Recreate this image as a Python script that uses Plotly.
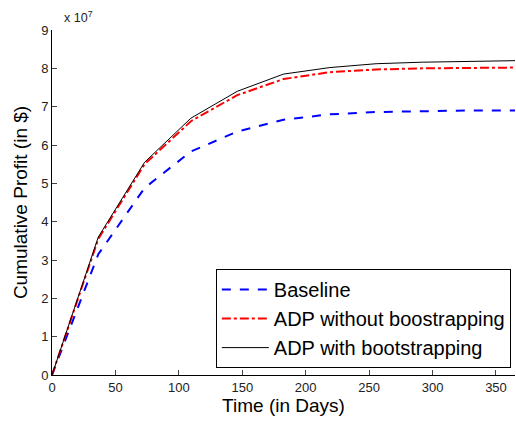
import plotly.graph_objects as go

days = [0, 36.5, 73, 109.5, 146, 182.5, 219, 255.5, 292, 328.5, 365]
baseline = [0, 3.15, 4.88, 5.83, 6.35, 6.66, 6.8, 6.86, 6.88, 6.9, 6.9]
adp_without = [0, 3.55, 5.5, 6.62, 7.3, 7.72, 7.9, 7.97, 8.0, 8.01, 8.02]
adp_with = [0, 3.6, 5.55, 6.7, 7.4, 7.85, 8.02, 8.12, 8.16, 8.18, 8.2]
x_ticks = [0, 50, 100, 150, 200, 250, 300, 350]
y_ticks = [0, 1, 2, 3, 4, 5, 6, 7, 8, 9]

FONT = "Arial, Liberation Sans, Helvetica, sans-serif"

fig = go.Figure()
fig.add_trace(go.Scatter(x=days, y=baseline, mode="lines", name="Baseline",
                         line=dict(color="#0000ff", width=2, dash="dash")))
fig.add_trace(go.Scatter(x=days, y=adp_without, mode="lines", name="ADP without boostrapping",
                         line=dict(color="#ff0000", width=2, dash="dashdot")))
fig.add_trace(go.Scatter(x=days, y=adp_with, mode="lines", name="ADP with bootstrapping",
                         line=dict(color="#000000", width=1)))

fig.update_layout(
    width=516, height=423,
    margin=dict(l=52, r=1, t=30, b=48),
    paper_bgcolor="white", plot_bgcolor="white",
    font=dict(family=FONT, color="black", size=13),
    legend=dict(x=0.991, y=0.02, xanchor="right", yanchor="bottom",
                bordercolor="black", borderwidth=1, bgcolor="white",
                font=dict(size=20, family=FONT), itemwidth=47,
                tracegroupgap=0),
    annotations=[dict(text="x 10<sup>7</sup>", xref="paper", yref="paper",
                      x=0.021, y=1.0, xanchor="left", yanchor="bottom", yshift=3,
                      showarrow=False, font=dict(size=12.5, family=FONT, color="#222"))],
)
fig.update_xaxes(range=[0, 365], tickvals=x_ticks, ticks="inside", ticklen=5,
                 showline=True, linecolor="black", linewidth=1, showgrid=False,
                 zeroline=False, tickfont=dict(size=13, color="#222"), automargin=False,
                 title=dict(text="Time (in Days)", font=dict(size=19), standoff=2))
fig.update_yaxes(range=[0, 9], tickvals=y_ticks, ticks="inside", ticklen=5,
                 showline=True, linecolor="black", linewidth=1, showgrid=False,
                 zeroline=False, tickfont=dict(size=13, color="#222"), automargin=False,
                 title=dict(text="Cumulative Profit (in $)", font=dict(size=19), standoff=8))

fig.write_html("out.html", config={"displayModeBar": False},
               post_script="document.body.style.margin='0px';")
